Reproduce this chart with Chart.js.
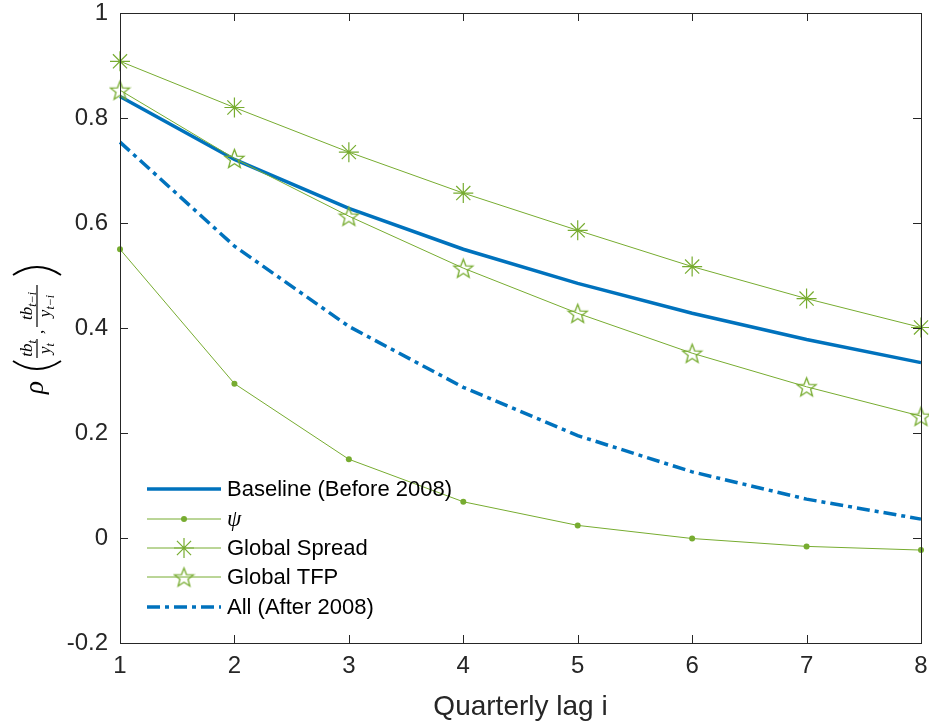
<!DOCTYPE html>
<html>
<head>
<meta charset="utf-8">
<script src="https://cdn.jsdelivr.net/npm/chart.js@4.4.0/dist/chart.umd.min.js"></script>
<style>
  html, body { margin: 0; padding: 0; background: #fff; }
  #wrap { width: 929px; height: 724px; }
</style>
</head>
<body>
<div id="wrap"><canvas id="chart" width="929" height="724"></canvas></div>
<script>
// valeurs
const lags = [1, 2, 3, 4, 5, 6, 7, 8];
const baseline = [0.841, 0.721, 0.628, 0.550, 0.485, 0.428, 0.378, 0.334];
const psi = [0.550, 0.294, 0.150, 0.069, 0.024, -0.001, -0.016, -0.023];
const globalSpread = [0.908, 0.820, 0.735, 0.657, 0.586, 0.517, 0.456, 0.401];
const globalTFP = [0.853, 0.723, 0.613, 0.514, 0.428, 0.352, 0.288, 0.232];
const allAfter = [0.754, 0.556, 0.403, 0.287, 0.195, 0.126, 0.074, 0.036];
const yTicks = [-0.2, 0, 0.2, 0.4, 0.6, 0.8, 1];

const BLUE = '#0072BD';
const GREEN = '#77AC30';
const AXIS = '#262626';
const SANS = '"Liberation Sans", Arial, Helvetica, sans-serif';
const SERIF = '"Liberation Serif", "DejaVu Serif", serif';

// pentagramme creux (marqueur 'p' de MATLAB)
function makePentagram(size) {
    const c = document.createElement('canvas');
    c.width = size; c.height = size;
    const g = c.getContext('2d');
    const cx = size / 2, cy = size / 2 + 1;
    const R = size / 2 - 1.5, r = R * 0.42;
    g.beginPath();
    for (let k = 0; k < 10; k++) {
        const rad = k % 2 === 0 ? R : r;
        const a = -Math.PI / 2 + k * Math.PI / 5;
        const px = cx + rad * Math.cos(a), py = cy + rad * Math.sin(a);
        if (k === 0) g.moveTo(px, py); else g.lineTo(px, py);
    }
    g.closePath();
    g.strokeStyle = GREEN;
    g.lineWidth = 1.3;
    g.stroke();
    return c;
}
const pentagram = makePentagram(23);

const toXY = arr => arr.map((v, i) => ({ x: lags[i], y: v }));

const datasets = [
    { label: 'Baseline (Before 2008)', data: toXY(baseline), borderColor: BLUE, borderWidth: 3.5, pointRadius: 0, order: 5 },
    { label: 'psi', data: toXY(psi), borderColor: GREEN, backgroundColor: GREEN, borderWidth: 1, pointStyle: 'circle', pointRadius: 3, pointBorderWidth: 0, order: 4 },
    { label: 'Global Spread', data: toXY(globalSpread), borderColor: GREEN, borderWidth: 1, pointStyle: 'star', pointRadius: 10, pointBorderWidth: 1.2, order: 3 },
    { label: 'Global TFP', data: toXY(globalTFP), borderColor: GREEN, borderWidth: 1, pointStyle: pentagram, order: 2 },
    { label: 'All (After 2008)', data: toXY(allAfter), borderColor: BLUE, borderWidth: 3.5, borderDash: [13, 5, 4, 5], pointRadius: 0, order: 1 }
];
datasets.forEach(d => { d.clip = false; d.tension = 0; d.fill = false; });

// cadre, graduations intérieures, légende et étiquette de l'axe y
const decorPlugin = {
    id: 'decor',
    afterDraw(chart) {
        const ctx = chart.ctx;
        const a = chart.chartArea;
        const xs = chart.scales.x, ys = chart.scales.y;
        ctx.save();
        ctx.strokeStyle = AXIS;
        ctx.lineWidth = 1;
        ctx.strokeRect(a.left + 0.5, a.top + 0.5, a.right - a.left, a.bottom - a.top);
        ctx.beginPath();
        lags.forEach(v => {
            const px = Math.round(xs.getPixelForValue(v)) + 0.5;
            ctx.moveTo(px, a.bottom); ctx.lineTo(px, a.bottom - 8);
            ctx.moveTo(px, a.top); ctx.lineTo(px, a.top + 8);
        });
        yTicks.forEach(v => {
            const py = Math.round(ys.getPixelForValue(v)) + 0.5;
            ctx.moveTo(a.left, py); ctx.lineTo(a.left + 8, py);
            ctx.moveTo(a.right, py); ctx.lineTo(a.right - 8, py);
        });
        ctx.stroke();

        // légende
        const rows = [489, 519, 548, 577, 607];
        const x0 = 147, x1 = 221;
        datasets.forEach((d, i) => {
            const y = rows[i];
            ctx.save();
            ctx.strokeStyle = d.borderColor;
            ctx.lineWidth = d.borderWidth;
            ctx.setLineDash(d.borderDash || []);
            ctx.beginPath(); ctx.moveTo(x0, y); ctx.lineTo(x1, y); ctx.stroke();
            ctx.restore();
            const mx = (x0 + x1) / 2;
            if (d.pointStyle === 'circle') {
                ctx.fillStyle = GREEN;
                ctx.beginPath(); ctx.arc(mx, y, 3, 0, Math.PI * 2); ctx.fill();
            } else if (d.pointStyle === 'star') {
                ctx.strokeStyle = GREEN; ctx.lineWidth = 1.2;
                ctx.beginPath();
                ctx.moveTo(mx - 10, y); ctx.lineTo(mx + 10, y);
                ctx.moveTo(mx, y - 10); ctx.lineTo(mx, y + 10);
                const dd = 7.07;
                ctx.moveTo(mx - dd, y - dd); ctx.lineTo(mx + dd, y + dd);
                ctx.moveTo(mx - dd, y + dd); ctx.lineTo(mx + dd, y - dd);
                ctx.stroke();
            } else if (d.pointStyle === pentagram) {
                ctx.drawImage(pentagram, mx - pentagram.width / 2, y - pentagram.height / 2);
            }
            ctx.fillStyle = '#000';
            ctx.textBaseline = 'middle';
            ctx.textAlign = 'left';
            if (d.label === 'psi') {
                ctx.font = 'italic 23px ' + SERIF;
                ctx.fillText('ψ', 227, y + 1);
            } else {
                ctx.font = '22px ' + SANS;
                ctx.fillText(d.label, 227, y + 1);
            }
        });

        // rho( tb_t / y_t , tb_{t-i} / y_{t-i} )
        ctx.translate(37, 330);
        ctx.rotate(-Math.PI / 2);
        ctx.fillStyle = '#000';
        ctx.strokeStyle = '#000';
        ctx.textBaseline = 'alphabetic';
        ctx.textAlign = 'left';
        ctx.font = 'italic 27px ' + SERIF;
        ctx.fillText('ρ', -64, 6);
        ctx.lineWidth = 1.8;
        ctx.beginPath();
        ctx.moveTo(-31, -24); ctx.quadraticCurveTo(-47, 0, -31, 24);
        ctx.moveTo(55, -24); ctx.quadraticCurveTo(71, 0, 55, 24);
        ctx.stroke();
        const frac = (x, w, num, numSub, den, denSub) => {
            ctx.lineWidth = 1.2;
            ctx.beginPath(); ctx.moveTo(x, 0); ctx.lineTo(x + w, 0); ctx.stroke();
            ctx.font = 'italic 17px ' + SERIF;
            const nw = ctx.measureText(num).width;
            ctx.font = 'italic 12px ' + SERIF;
            const nsw = ctx.measureText(numSub).width;
            let sx = x + (w - nw - nsw) / 2;
            ctx.font = 'italic 17px ' + SERIF;
            ctx.fillText(num, sx, -5);
            ctx.font = 'italic 12px ' + SERIF;
            ctx.fillText(numSub, sx + nw, -1);
            ctx.font = 'italic 17px ' + SERIF;
            const dw = ctx.measureText(den).width;
            ctx.font = 'italic 12px ' + SERIF;
            const dsw = ctx.measureText(denSub).width;
            sx = x + (w - dw - dsw) / 2;
            ctx.font = 'italic 17px ' + SERIF;
            ctx.fillText(den, sx, 13);
            ctx.font = 'italic 12px ' + SERIF;
            ctx.fillText(denSub, sx + dw, 17);
        };
        frac(-28, 19, 'tb', 't', 'y', 't');
        ctx.font = 'italic 17px ' + SERIF;
        ctx.fillText(',', -4, 6);
        frac(3, 42, 'tb', 't−i', 'y', 't−i');
        ctx.restore();
    }
};

const fmt = v => String(Math.round(v * 10) / 10);

new Chart(document.getElementById('chart'), {
    type: 'line',
    data: { datasets: datasets },
    options: {
        responsive: false,
        animation: false,
        devicePixelRatio: 1,
        layout: { autoPadding: false, padding: { top: 13, right: 8, left: 0, bottom: 0 } },
        plugins: { legend: { display: false }, tooltip: { enabled: false } },
        scales: {
            x: {
                type: 'linear', min: 1, max: 8,
                grid: { display: false, drawTicks: false, tickLength: 0 },
                border: { display: false },
                ticks: { stepSize: 1, color: AXIS, padding: 9, font: { family: SANS, size: 24 }, callback: fmt },
                title: { display: true, text: 'Quarterly lag i', color: AXIS, padding: { top: 3, bottom: 0 }, font: { family: SANS, size: 28 } },
                afterFit: s => { s.height = 81; s.paddingLeft = 0; s.paddingRight = 0; }
            },
            y: {
                min: -0.2, max: 1,
                grid: { display: false, drawTicks: false, tickLength: 0 },
                border: { display: false },
                afterBuildTicks: s => { s.ticks = yTicks.map(v => ({ value: v })); },
                ticks: { color: AXIS, padding: 12, font: { family: SANS, size: 24 }, callback: fmt },
                afterFit: s => { s.width = 120; s.paddingTop = 0; s.paddingBottom = 0; }
            }
        }
    },
    plugins: [decorPlugin]
});
</script>
</body>
</html>
